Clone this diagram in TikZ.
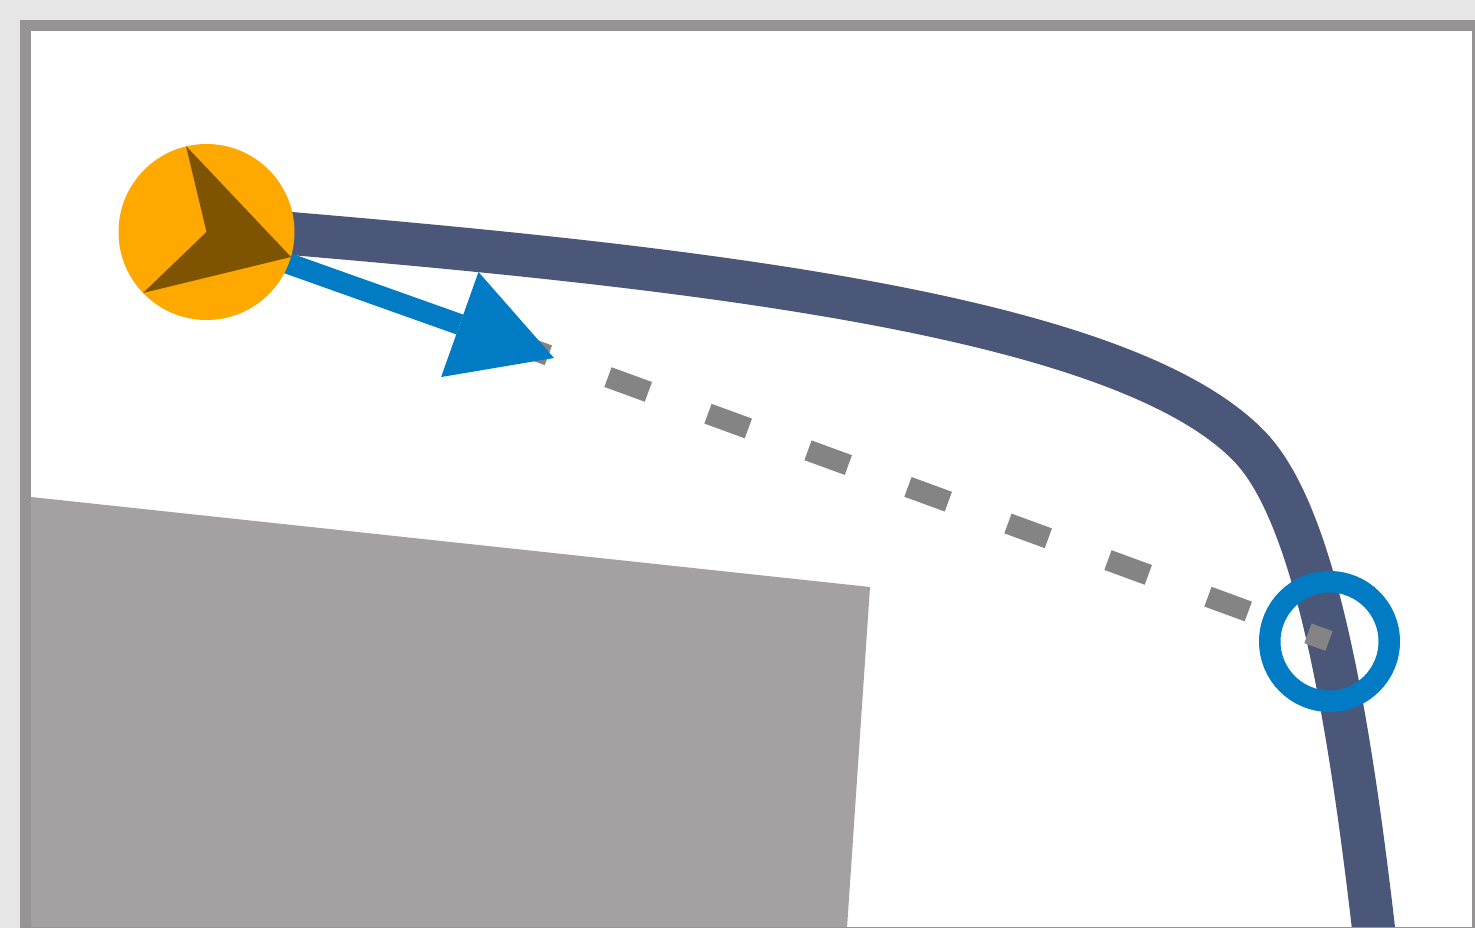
\documentclass[tikz,border=0pt]{standalone}
\usetikzlibrary{arrows.meta}

\definecolor{roadblue}{HTML}{4A5779}
\definecolor{arrowblue}{HTML}{007BC4}
\definecolor{carorange}{HTML}{FFA800}
\definecolor{cardark}{HTML}{7F5400}
\definecolor{framegray}{HTML}{959393}
\definecolor{blockgray}{HTML}{A3A1A2}
\definecolor{dashgray}{HTML}{848484}
\definecolor{pagegray}{HTML}{E6E6E6}

\tikzset{
  road/.style={draw=roadblue, line width=0.86cm},
  lookahead/.style={draw=dashgray, line width=0.42cm, dash pattern=on 0.86cm off 1.27cm},
  heading/.style={draw=arrowblue, line width=0.42cm, -{Triangle[length=2cm,width=2.23cm,line width=0pt]}},
  target/.style={draw=arrowblue, line width=0.43cm}
}

\begin{document}
\begin{tikzpicture}[x=0.02cm,y=-0.02cm]

\useasboundingbox (0,0) rectangle (1475,928);

\coordinate (j) at (206.5,232);
\coordinate (R0) at (285,233);
\coordinate (R1) at (1250,447);
\coordinate (R2) at (1376,950);
\coordinate (T) at (1329.5,641.5);
\coordinate (L0) at (508,340.5);
\coordinate (L1) at (1329,641);
\coordinate (H0) at (270,257);
\coordinate (H1) at (554,358);

\fill[pagegray] (0,0) rectangle (1475,928);
\fill[framegray] (20,20) rectangle (1475,928);
\fill[white] (31,31) rectangle (1472,927);

\begin{scope}
  \clip (20,20) rectangle (1472,927);
  \fill[blockgray] (31,497) -- (870,587) -- (847,928) -- (31,928) -- cycle;
  \path[road] (R0) .. controls (700,268) and (1125,316) .. (R1)
    .. controls (1316,516) and (1350,720) .. (R2);
\end{scope}

\path[target] (T) circle(59.75);
\path[lookahead] (L0) -- (L1);
\path[heading] (H0) -- (H1);

\fill[carorange] (j) circle(88);
\fill[cardark] (186,146) -- (291,257) -- (143,293) -- (j) -- cycle;

\end{tikzpicture}
\end{document}
